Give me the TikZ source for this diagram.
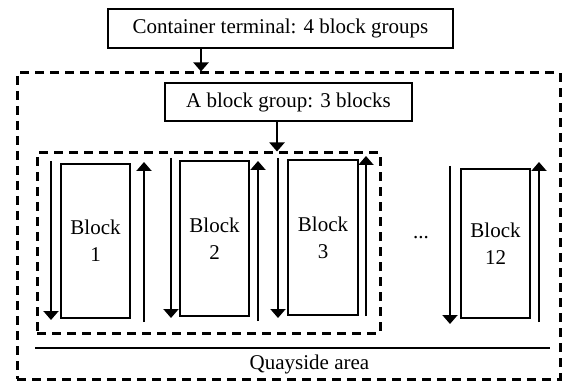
\documentclass[tikz,border=0pt]{standalone}
\usepackage{fontspec}
\setmainfont{Liberation Serif}
\usepackage{tikz}
\usetikzlibrary{positioning,arrows.meta,calc}
\definecolor{ink}{RGB}{0,0,0}
\tikzset{
  box/.style={draw=ink, rectangle, align=center, inner sep=2pt, text=ink,
    font=\fontsize{21}{27}\selectfont, line width=2pt},
  blockbox/.style={box, minimum width=69pt, minimum height=154pt},
  area/.style={draw=ink, rectangle, dash pattern=on 9pt off 6pt, line width=3pt},
  flow/.style={-{Triangle[width=15pt,length=9pt]}, line width=2pt, draw=ink},
  quay/.style={line width=1.5pt, draw=ink},
}
\begin{document}
\begin{tikzpicture}[x=1pt,y=-1pt]
  \useasboundingbox (0,0) rectangle (562,382);
  % dashed areas
  \node[area, minimum width=543pt, minimum height=306pt] (yard) at (288.5,226) {};
  \node[area, minimum width=343pt, minimum height=180pt] (grp) at (208.5,243) {};
  % titles
  \node[box, minimum width=345pt, minimum height=39pt] (terminal) at (280.5,28.5)
    {Container terminal: 4 block groups};
  \node[box, minimum width=247pt, minimum height=38pt] (group) at (288.5,102)
    {A block group: 3 blocks};
  \draw[flow] ([xshift=-79.5pt]terminal.south) -- ([xshift=-79.5pt]terminal.south |- yard.north);
  \draw[flow] ([xshift=-11.5pt]group.south) -- ([xshift=-11.5pt]group.south |- grp.north);
  % blocks
  \node[blockbox] (b1) at (95.5,241) {Block\\1};
  \node[blockbox, minimum height=155pt] (b2) at (214.5,238.5) {Block\\2};
  \node[blockbox, minimum width=70pt, minimum height=155pt] (b3) at (323,237.5) {Block\\3};
  \node[blockbox, minimum height=149pt] (b12) at (495.5,243.5) {Block\\12};
  \node[font=\fontsize{21}{27}\selectfont, inner sep=0pt] (dots) at (421,238) {...};
  % lanes
  \draw[flow] ($(b1.north west)+(-9,-2)$) -- ($(b1.south west)+(-9,1)$);
  \draw[flow] ($(b1.south east)+(13,3)$) -- ($(b1.north east)+(13,-1)$);
  \draw[flow] ($(b2.north west)+(-8,-2)$) -- ($(b2.south west)+(-8,1)$);
  \draw[flow] ($(b2.south east)+(8,4)$) -- ($(b2.north east)+(8,1)$);
  \draw[flow] ($(b3.north west)+(-9,-1)$) -- ($(b3.south west)+(-9,2)$);
  \draw[flow] ($(b3.south east)+(7,0)$) -- ($(b3.north east)+(7,-3)$);
  \draw[flow] ($(b12.north west)+(-10,-2)$) -- ($(b12.south west)+(-10,5)$);
  \draw[flow] ($(b12.south east)+(8,3)$) -- ($(b12.north east)+(8,-6)$);
  % quayside
  \coordinate (qa) at (35,348);
  \coordinate (qb) at (550,348);
  \draw[quay] (qa) -- (qb);
  \node[font=\fontsize{21}{27}\selectfont, inner sep=0pt] (quayside) at (309.5,364) {Quayside area};
\end{tikzpicture}
\end{document}
